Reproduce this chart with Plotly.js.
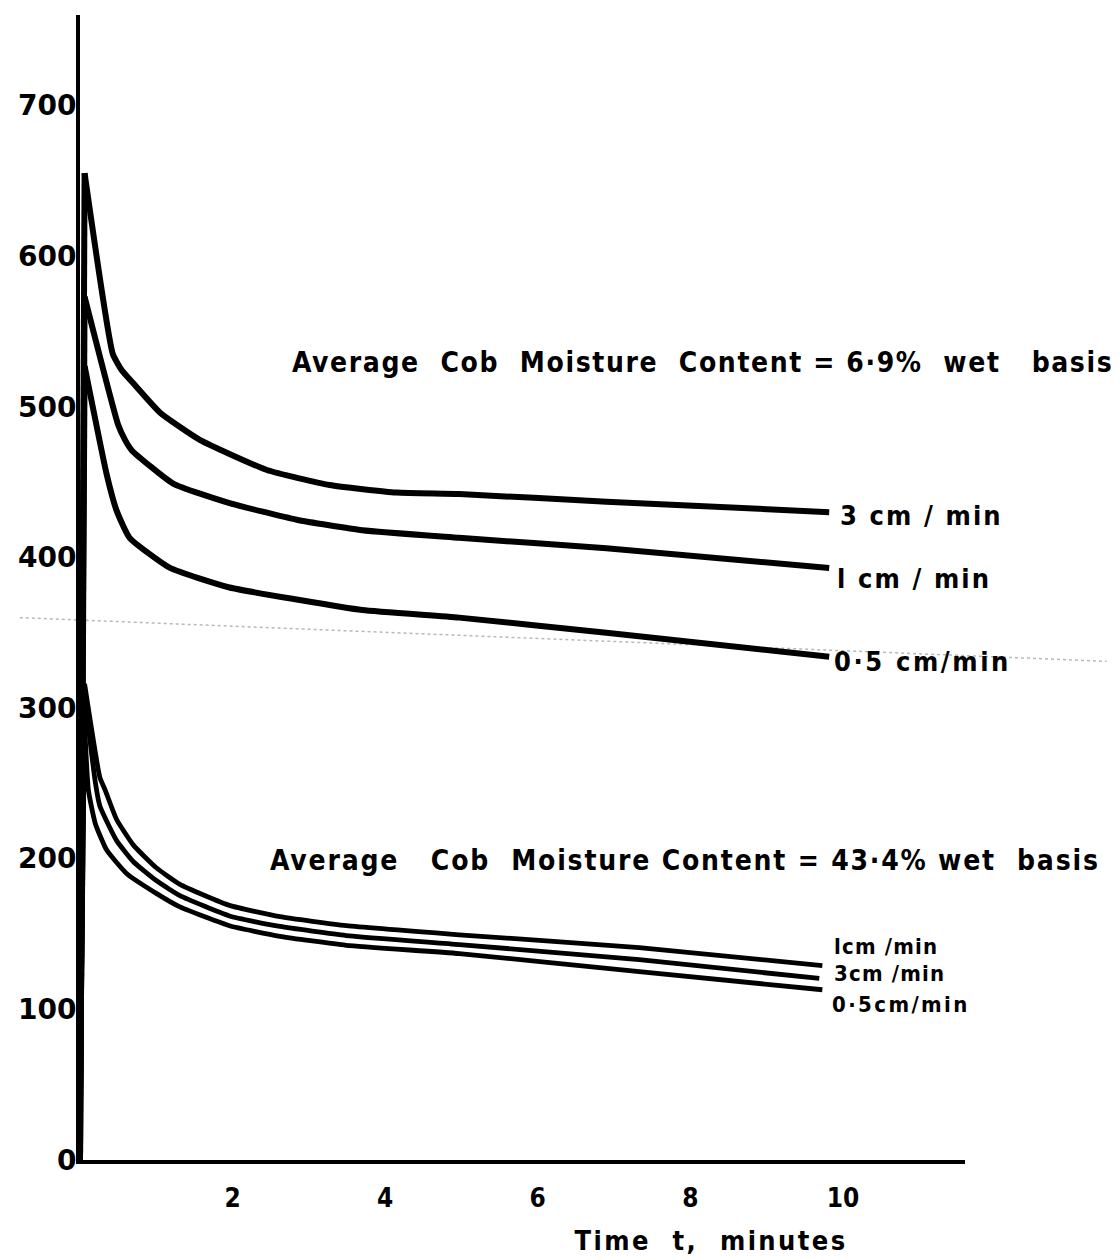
<!DOCTYPE html>
<html>
<head>
<meta charset="utf-8">
<script src="https://cdn.plot.ly/plotly-3.0.1.min.js"></script>
<style>html,body{margin:0;padding:0;background:#fff;}</style>
</head>
<body>
<div id="chart" style="width:1120px;height:1260px;"></div>
<script>
// ---- Data (time t in minutes, value on y axis) ----
// Upper group: Average Cob Moisture Content = 6.9% wet basis
const dry3_t  = [0, 0.06, 0.43, 0.55, 0.69, 1.05, 1.57, 2.45, 3.27, 4.15, 4.97, 6.90, 9.82];
const dry3_v  = [0, 655, 535, 524, 516, 496, 478, 458, 448, 443, 442, 437, 430];
const dry1_t  = [0, 0.06, 0.50, 0.59, 0.68, 1.22, 1.96, 2.84, 3.70, 4.97, 6.90, 9.82];
const dry1_v  = [0, 573, 488, 478, 471, 449, 436, 425, 418, 413, 406, 393];
const dry05_t = [0, 0.06, 0.35, 0.48, 0.65, 1.18, 1.96, 2.84, 3.70, 4.97, 6.90, 9.82];
const dry05_v = [0, 527, 455, 431, 413, 393, 380, 372, 365, 360, 350, 334];
// Lower group: Average Cob Moisture Content = 43.4% wet basis
const wet1_t  = [0, 0.06, 0.26, 0.33, 0.48, 0.70, 1.00, 1.31, 1.96, 2.62, 3.49, 4.97, 7.33, 9.73];
const wet1_v  = [0, 316, 254, 245.5, 226, 209, 194, 183, 169, 161.5, 155.5, 149.5, 141, 129];
const wet3_t  = [0, 0.06, 0.20, 0.26, 0.48, 0.70, 1.00, 1.31, 1.96, 2.62, 3.49, 4.97, 7.33, 9.69];
const wet3_v  = [0, 308, 251, 235, 212, 198, 185.5, 175.5, 162, 155, 149, 143, 133, 120.5];
const wet05_t = [0, 0.05, 0.11, 0.20, 0.35, 0.61, 1.00, 1.31, 1.96, 2.62, 3.49, 4.97, 7.33, 9.73];
const wet05_v = [0, 300, 245.5, 223.4, 205.7, 190.2, 177, 168, 155.5, 148.5, 142.5, 137, 125, 113];

// Series labels (text, anchor time, anchor value)
const seriesLabels = ["3 cm / min", "l cm / min", "0·5 cm/min", "lcm /min", "3cm /min", "0·5cm/min"];
const labelT = [9.94, 9.90, 9.86, 9.86, 9.86, 9.83];
const labelV = [428, 386, 331, 142, 124, 103.5];

// Group titles
const groupTitles = ["Average\u00A0 Cob\u00A0 Moisture\u00A0 Content = 6·9%\u00A0 wet\u00A0\u00A0 basis",
                     "Average\u00A0\u00A0 Cob\u00A0 Moisture Content = 43·4% wet\u00A0 basis"];
const groupT = [2.75, 2.46];
const groupV = [529.5, 199];

// Axis ticks
const xTicks = [2, 4, 6, 8, 10];
const yTicks = [0, 100, 200, 300, 400, 500, 600, 700];
const xTitle = "Time\u00A0 t,\u00A0 minutes";

const fontCond = "DejaVu Sans Condensed, Liberation Sans Narrow, DejaVu Sans, sans-serif";
const fontWide = "DejaVu Sans, Liberation Sans, sans-serif";

const series = [
  [dry3_t, dry3_v, 6], [dry1_t, dry1_v, 6], [dry05_t, dry05_v, 6],
  [wet1_t, wet1_v, 4.8], [wet3_t, wet3_v, 4.8], [wet05_t, wet05_v, 4.8]
];

const traces = [];
series.forEach(([t, v, w]) => {
  // steep initial rise (origin to peak)
  traces.push({x: t.slice(0, 2), y: v.slice(0, 2), type: 'scatter', mode: 'lines',
               line: {color: '#000', width: w}, hoverinfo: 'skip'});
  // decay from the peak onwards
  traces.push({x: t.slice(1), y: v.slice(1), type: 'scatter', mode: 'lines',
               line: {color: '#000', width: w, shape: 'spline', smoothing: 0.45}, hoverinfo: 'skip'});
});

const annotations = [];
const spacing = [];
const labelSpacing = [2.1, 2.1, 2.6, 1.2, 1.2, 2.4];
for (let i = 0; i < seriesLabels.length; i++) {
  annotations.push({x: labelT[i], y: labelV[i], xref: 'x', yref: 'y', text: seriesLabels[i],
    showarrow: false, xanchor: 'left', yanchor: 'middle', align: 'left',
    font: {family: fontCond, size: i < 3 ? 27 : 22, color: '#000', weight: 'bold'}});
  spacing.push(labelSpacing[i]);
}
for (let i = 0; i < groupTitles.length; i++) {
  annotations.push({x: groupT[i], y: groupV[i], xref: 'x', yref: 'y', text: groupTitles[i],
    showarrow: false, xanchor: 'left', yanchor: 'middle', align: 'left',
    font: {family: fontCond, size: 28, color: '#000', weight: 'bold'}});
  spacing.push(i === 0 ? 1.6 : 1.8);
}
annotations.push({x: 8.27, y: -0.07, xref: 'x', yref: 'paper', text: xTitle, showarrow: false,
  xanchor: 'center', yanchor: 'middle',
  font: {family: fontCond, size: 27, color: '#000', weight: 'bold'}});
spacing.push(2.4);

const layout = {
  width: 1120, height: 1260,
  margin: {l: 80, r: 155, t: 15, b: 100, pad: 0},
  paper_bgcolor: '#fff', plot_bgcolor: '#fff',
  showlegend: false,
  xaxis: {range: [0, 11.6], showgrid: false, zeroline: false, showline: true,
          linecolor: '#000', linewidth: 4, ticks: '', tickmode: 'array',
          tickvals: xTicks, ticktext: xTicks.map(String), ticklabelstandoff: 12,
          tickfont: {family: fontCond, size: 26, color: '#000', weight: 'bold'}},
  yaxis: {range: [0, 760], showgrid: false, zeroline: false, showline: true,
          linecolor: '#000', linewidth: 4, ticks: '', tickmode: 'array',
          tickvals: yTicks, ticktext: yTicks.map(String), ticklabelstandoff: -6,
          tickfont: {family: fontWide, size: 28, color: '#000', weight: 'bold'}},
  annotations: annotations,
  shapes: [{type: 'line', xref: 'paper', yref: 'y', x0: -0.068, x1: 1.16, y0: 360, y1: 331,
            line: {color: '#b8b8b8', width: 1.5, dash: 'dot'}, layer: 'below'}]
};

Plotly.newPlot('chart', traces, layout, {staticPlot: true, displayModeBar: false}).then(gd => {
  gd.querySelectorAll('.annotation').forEach(g => {
    const idx = +g.getAttribute('data-index');
    const txt = g.querySelector('text');
    if (txt && spacing[idx] !== undefined) txt.style.letterSpacing = spacing[idx] + 'px';
  });
});
</script>
</body>
</html>
